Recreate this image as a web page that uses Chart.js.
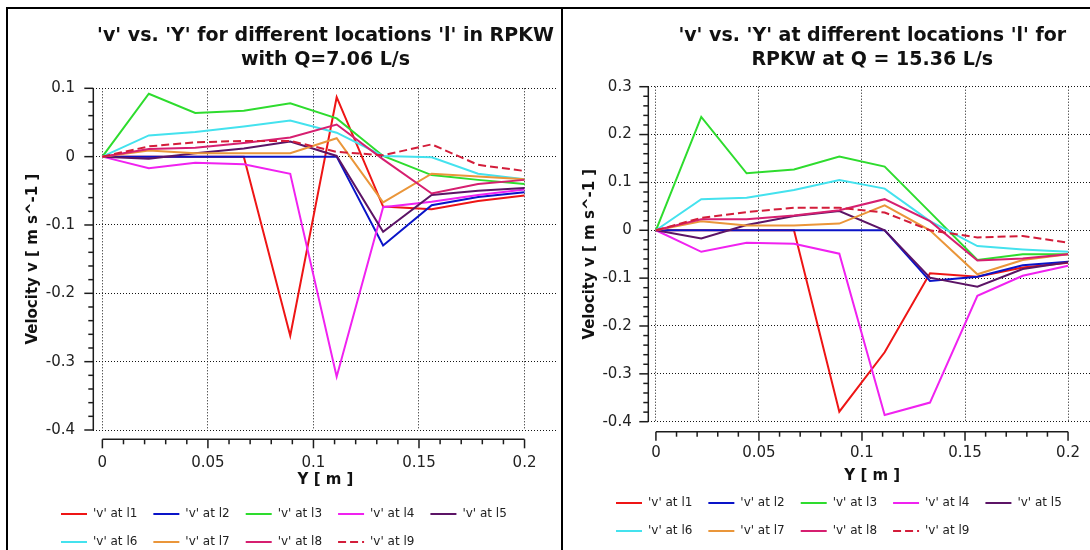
<!DOCTYPE html>
<html>
<head>
<meta charset="utf-8">
<script src="https://cdn.jsdelivr.net/npm/chart.js@4.4.0/dist/chart.umd.min.js"></script>
<style>
  html, body { margin: 0; padding: 0; background: #fff; overflow: hidden; }
  body { width: 1090px; height: 550px; position: relative; }
  .panel { position: absolute; top: 7px; border: 2px solid #000; background: #fff; }
  #panelLow { left: 6px; width: 553px; height: 560px; }
  #panelHigh { left: 561px; width: 540px; height: 560px; }
  canvas { display: block; }
</style>
</head>
<body>
<div class="panel" id="panelLow"><canvas id="chartLow" width="553" height="560"></canvas></div>
<div class="panel" id="panelHigh"><canvas id="chartHigh" width="540" height="560"></canvas></div>
<script>
// measuring positions across the channel, Y [m]
const yPos = [0, 0.022, 0.044, 0.067, 0.089, 0.111, 0.133, 0.156, 0.178, 0.2];
const yTickVals = [0, 0.05, 0.1, 0.15, 0.2];
const vTicksLow = [-0.4, -0.3, -0.2, -0.1, 0, 0.1];
const vTicksHigh = [-0.4, -0.3, -0.2, -0.1, 0, 0.1, 0.2, 0.3];

const seriesNames = ["'v' at l1", "'v' at l2", "'v' at l3", "'v' at l4", "'v' at l5",
                     "'v' at l6", "'v' at l7", "'v' at l8", "'v' at l9"];

// Q = 7.06 L/s
const q706L1 = [0, 0, 0, 0, -0.262, 0.087, -0.073, -0.077, -0.065, -0.057];
const q706L2 = [0, 0, 0, 0, 0, 0, -0.130, -0.071, -0.059, -0.052];
const q706L3 = [0, 0.092, 0.064, 0.067, 0.078, 0.056, 0.001, -0.027, -0.034, -0.040];
const q706L4 = [0, -0.017, -0.009, -0.011, -0.025, -0.322, -0.074, -0.066, -0.056, -0.048];
const q706L5 = [0, -0.003, 0.005, 0.012, 0.022, 0.001, -0.110, -0.056, -0.050, -0.046];
const q706L6 = [0, 0.031, 0.036, 0.044, 0.053, 0.035, 0.001, -0.001, -0.025, -0.033];
const q706L7 = [0, 0.009, 0.005, 0.005, 0.005, 0.027, -0.067, -0.025, -0.029, -0.033];
const q706L8 = [0, 0.011, 0.013, 0.020, 0.028, 0.047, -0.004, -0.054, -0.040, -0.034];
const q706L9 = [0, 0.015, 0.021, 0.023, 0.023, 0.007, 0.002, 0.018, -0.012, -0.021];

// Q = 15.36 L/s
const q1536L1 = [0, 0, 0, 0, -0.379, -0.255, -0.090, -0.097, -0.078, -0.068];
const q1536L2 = [0, 0, 0, 0, 0, 0, -0.106, -0.097, -0.073, -0.066];
const q1536L3 = [0, 0.237, 0.119, 0.127, 0.154, 0.133, 0.038, -0.062, -0.050, -0.050];
const q1536L4 = [0, -0.045, -0.026, -0.028, -0.049, -0.386, -0.360, -0.137, -0.095, -0.074];
const q1536L5 = [0, -0.017, 0.011, 0.030, 0.040, 0, -0.099, -0.118, -0.081, -0.067];
const q1536L6 = [0, 0.065, 0.068, 0.084, 0.105, 0.087, 0.019, -0.033, -0.040, -0.045];
const q1536L7 = [0, 0.019, 0.010, 0.010, 0.014, 0.052, 0, -0.092, -0.062, -0.050];
const q1536L8 = [0, 0.023, 0.023, 0.031, 0.042, 0.065, 0.019, -0.063, -0.059, -0.050];
const q1536L9 = [0, 0.026, 0.038, 0.047, 0.047, 0.037, 0, -0.015, -0.012, -0.026];

const seriesColors = ['#ee1515', '#0a14c8', '#2edc2e', '#f022f0', '#5c1466',
                      '#44e2ee', '#ea963a', '#d61f70', '#d31d3a'];

const FONT = "'DejaVu Sans', sans-serif";
Chart.defaults.font.family = FONT;

const fmt = v => String(+v.toFixed(3));

// legend entries take the dataset line width and dash, not the point style's
const legendLabels = chart =>
  Chart.defaults.plugins.legend.labels.generateLabels(chart).map(item => {
    const ds = chart.data.datasets[item.datasetIndex];
    item.lineWidth = ds.borderWidth;
    item.lineDash = ds.borderDash;
    item.strokeStyle = ds.borderColor;
    return item;
  });

// offset axes with minor ticks, and legend nudged into place
const axisDeco = {
  id: 'axisDeco',
  afterLayout(chart, args, o) {
    const lg = chart.legend;
    lg.left += o.legendDx; lg.right += o.legendDx;
    lg.top += o.legendDy; lg.bottom += o.legendDy;
  },
  afterDraw(chart, args, o) {
    const {ctx, chartArea: ca} = chart;
    const xs = chart.scales.x, ys = chart.scales.y;
    const line = (x1, y1, x2, y2) => { ctx.beginPath(); ctx.moveTo(x1, y1); ctx.lineTo(x2, y2); ctx.stroke(); };
    ctx.save();
    ctx.strokeStyle = '#1c1c1c';
    ctx.lineWidth = 1.5;
    ctx.setLineDash([]);

    // vertical axis, minor every 0.02
    const ax = ca.left;
    line(ax, ca.top, ax, ca.bottom);
    const nY = Math.round((ys.max - ys.min) / 0.02);
    for (let k = 0; k <= nY; k++) {
      const py = ys.getPixelForValue(ys.min + k * 0.02);
      line(ax - (k % 5 === 0 ? 9 : 5), py, ax, py);
    }

    // horizontal axis below the plot, minor every 0.01
    const ay = ca.bottom + o.xGap;
    const x0 = yTickVals[0], x1 = yTickVals[yTickVals.length - 1];
    line(xs.getPixelForValue(x0), ay, xs.getPixelForValue(x1), ay);
    const nX = Math.round((x1 - x0) / 0.01);
    for (let k = 0; k <= nX; k++) {
      const px = xs.getPixelForValue(x0 + k * 0.01);
      line(px, ay, px, ay + (k % 5 === 0 ? 9 : 5));
    }
    ctx.restore();
  }
};

function buildChart(id, title, series, vTicks, g) {
  return new Chart(document.getElementById(id), {
    type: 'line',
    data: {
      datasets: series.map((vals, i) => ({
        label: seriesNames[i],
        data: vals.map((v, k) => ({x: yPos[k], y: v})),
        borderColor: seriesColors[i],
        backgroundColor: seriesColors[i],
        borderWidth: 2,
        borderDash: i === 8 ? [8, 4] : [],
        pointRadius: 0,
        order: series.length - i
      }))
    },
    options: {
      responsive: false,
      animation: false,
      layout: {padding: {top: 0, left: 0, right: g.padRight, bottom: 0}},
      scales: {
        x: {
          type: 'linear',
          min: g.xMin, max: g.xMax,
          afterBuildTicks: s => { s.ticks = yTickVals.map(v => ({value: v})); },
          afterFit: s => { s.height = g.xHeight; },
          grid: {color: '#151515', lineWidth: 1, drawTicks: false},
          border: {display: false, dash: [1, 2]},
          ticks: {padding: g.xTickPad, color: '#222', font: {size: 15}, maxRotation: 0, autoSkip: false, callback: fmt},
          title: {display: true, text: 'Y [ m ]', color: '#111', font: {size: 15, weight: 'bold'},
                  padding: {top: 0, bottom: g.xTitlePad}}
        },
        y: {
          min: vTicks[0], max: vTicks[vTicks.length - 1],
          afterBuildTicks: s => { s.ticks = vTicks.map(v => ({value: v})); },
          afterFit: s => { s.width = g.yWidth; },
          grid: {color: '#151515', lineWidth: 1, drawTicks: false},
          border: {display: false, dash: [1, 2]},
          ticks: {padding: g.yTickPad, color: '#222', font: {size: 15}, autoSkip: false, callback: fmt},
          title: {display: true, text: 'Velocity v [ m s^-1 ]', color: '#111', font: {size: 15, weight: 'bold'},
                  padding: {top: g.yTitlePad, bottom: 0}}
        }
      },
      plugins: {
        title: {
          display: true, text: title, fullSize: false, color: '#111',
          font: {size: 19, weight: 'bold', lineHeight: 1.25},
          padding: {top: g.titleTop, bottom: g.titleBottom}
        },
        legend: {
          position: 'bottom', align: 'start',
          labels: {
            usePointStyle: true, pointStyle: 'line', pointStyleWidth: 26,
            padding: 16, color: '#222', font: {size: 12},
            generateLabels: legendLabels,
            sort: (a, b) => a.datasetIndex - b.datasetIndex
          }
        },
        tooltip: {enabled: false},
        axisDeco: {xGap: g.xGap, legendDx: g.legendDx, legendDy: g.legendDy}
      }
    },
    plugins: [axisDeco]
  });
}

buildChart('chartLow',
  ["'v' vs. 'Y' for different locations 'l' in RPKW", 'with Q=7.06 L/s'],
  [q706L1, q706L2, q706L3, q706L4, q706L5, q706L6, q706L7, q706L8, q706L9],
  vTicksLow,
  {xMin: -0.0043, xMax: 0.2157, padRight: 3, yWidth: 85.3, yTickPad: 18.3, yTitlePad: 16,
   titleTop: 15.6, titleBottom: 16.2, xHeight: 73, xTickPad: 24.3, xTitlePad: 14,
   xGap: 9.3, legendDx: 37, legendDy: -11});

buildChart('chartHigh',
  ["'v' vs. 'Y' at different locations 'l' for", 'RPKW at Q = 15.36 L/s'],
  [q1536L1, q1536L2, q1536L3, q1536L4, q1536L5, q1536L6, q1536L7, q1536L8, q1536L9],
  vTicksHigh,
  {xMin: -0.0037, xMax: 0.2137, padRight: 4, yWidth: 85.3, yTickPad: 16.6, yTitlePad: 18,
   titleTop: 15.6, titleBottom: 14.6, xHeight: 81.3, xTickPad: 22.6, xTitlePad: 18,
   xGap: 10, legendDx: 37, legendDy: -22});
</script>
</body>
</html>
